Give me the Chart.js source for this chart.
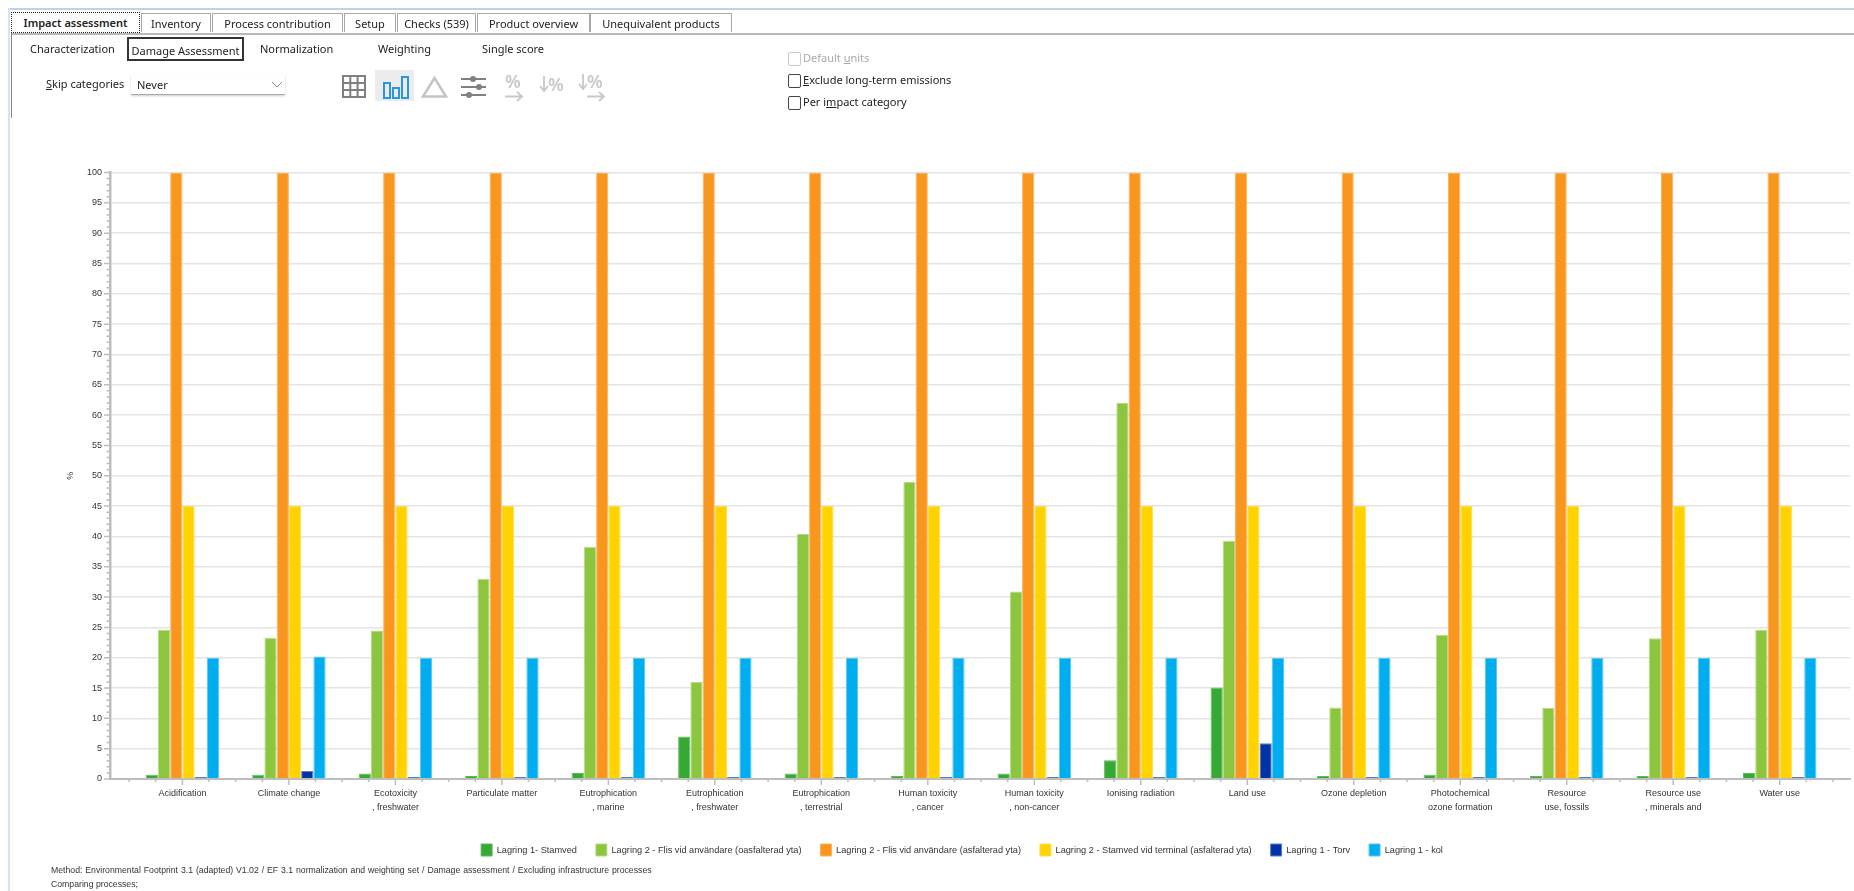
<!DOCTYPE html>
<html lang="en">

<head>
    <meta charset="UTF-8">
    <title>Impact assessment</title>
    <script src="https://cdn.jsdelivr.net/npm/chart.js"></script>

    <style>
        html, body {
            margin: 0;
            padding: 0;
            width: 1854px;
            height: 891px;
            overflow: hidden;
            background: #fff;
            font-family: "Noto Sans", sans-serif;
            color: #222;
        }

        canvas {
            position: absolute;
            left: 0;
            top: 0;
        }

        .ui {
            position: absolute;
            white-space: nowrap;
            font-size: 11px;
            line-height: 16px;
        }

        .line {
            position: absolute;
        }

        .tab {
            position: absolute;
            top: 13px;
            height: 19px;
            line-height: 19px;
            font-size: 11px;
            text-align: center;
            box-sizing: border-box;
            border: 1px solid #a8a8a8;
            border-bottom: none;
            white-space: nowrap;
        }

        .check {
            position: absolute;
            left: 788px;
            width: 11px;
            height: 12px;
            border: 1px solid #444;
            border-radius: 2px;
        }

        .pct {
            font-size: 18px;
            line-height: 18px;
            color: #c8c8c8;
            font-weight: 600;
        }

        .note {
            font-family: "Liberation Sans", sans-serif;
            font-size: 8.7px;
            line-height: 14px;
            color: #333;
        }

        svg {
            position: absolute;
        }
    </style>
</head>

<body>
    <canvas id="myChart" width="1854" height="891"></canvas>

    <div class="line" style="left:8px;top:8px;width:1846px;height:2px;background:#bcd3ec"></div>
    <div class="line" style="left:8px;top:8px;width:2px;height:883px;background:#d5e3f2"></div>
    <div class="line" style="left:12px;top:33px;width:1842px;height:2px;background:#b8b8b8"></div>
    <div class="line" style="left:11px;top:33px;width:1px;height:85px;background:#888"></div>

    <div class="tab" style="left:11px;width:129px;top:12px;height:21px;font-weight:600;border:1px dotted #222;background:#fff">Impact assessment</div>
    <div class="tab" style="left:141px;width:70px">Inventory</div>
    <div class="tab" style="left:212px;width:131px">Process contribution</div>
    <div class="tab" style="left:344px;width:52px">Setup</div>
    <div class="tab" style="left:397px;width:79px">Checks (539)</div>
    <div class="tab" style="left:477px;width:113px">Product overview</div>
    <div class="tab" style="left:590px;width:142px">Unequivalent products</div>

    <div class="ui" style="left:30px;top:41px">Characterization</div>
    <div class="ui" style="left:127px;top:37px;width:117px;height:24px;line-height:24px;box-sizing:border-box;border:2px solid #333;text-align:center">Damage Assessment</div>
    <div class="ui" style="left:260px;top:41px">Normalization</div>
    <div class="ui" style="left:378px;top:41px">Weighting</div>
    <div class="ui" style="left:482px;top:41px">Single score</div>

    <div class="ui" style="left:46px;top:76px"><u>S</u>kip categories</div>
    <div class="ui" style="left:131px;top:74px;width:154px;height:21px;line-height:21px;box-sizing:border-box;padding-left:6px;border-bottom:1px solid #aaa;box-shadow:0 1px 2px #ccc">Never</div>
    <svg style="left:271px;top:81px" width="12" height="8"><path d="M1 1 L6 6 L11 1" fill="none" stroke="#888" stroke-width="1"/></svg>

    <!-- toolbar icons -->
    <div class="line" style="left:375px;top:70px;width:39px;height:31px;background:#ececec"></div>
    <svg style="left:342px;top:75px" width="24" height="23">
        <path d="M1 1H23V22H1ZM8.3 1V22M15.6 1V22M1 8H23M1 15H23" fill="none" stroke="#808080" stroke-width="2"/>
    </svg>
    <svg style="left:382px;top:75px" width="28" height="24">
        <path d="M2 8H8V23H2ZM11 13H17V23H11ZM20 2H26V23H20Z" fill="none" stroke="#2a96dc" stroke-width="2"/>
    </svg>
    <svg style="left:421px;top:76px" width="27" height="22">
        <path d="M13.5 2L25 20.5H2Z" fill="none" stroke="#c4c4c4" stroke-width="2.5"/>
    </svg>
    <svg style="left:461px;top:75px" width="26" height="23">
        <g stroke="#808080" stroke-width="2" fill="#808080">
            <path d="M0 4H25M0 12H25M0 20H25"/>
            <circle cx="12" cy="4" r="2"/><circle cx="18" cy="12" r="2"/><circle cx="8" cy="20" r="2"/>
        </g>
    </svg>
    <div class="ui pct" style="left:505px;top:72px">%</div>
    <svg style="left:504px;top:91px" width="20" height="11"><path d="M1 5.5H18M13 1L18 5.5L13 10" fill="none" stroke="#c8c8c8" stroke-width="1.8"/></svg>
    <svg style="left:539px;top:75px" width="10" height="18"><path d="M5 1V16M1 11L5 16L9 11" fill="none" stroke="#c8c8c8" stroke-width="1.8"/></svg>
    <div class="ui pct" style="left:548px;top:75px">%</div>
    <svg style="left:578px;top:73px" width="10" height="18"><path d="M5 1V16M1 11L5 16L9 11" fill="none" stroke="#c8c8c8" stroke-width="1.8"/></svg>
    <div class="ui pct" style="left:587px;top:72px">%</div>
    <svg style="left:586px;top:91px" width="20" height="11"><path d="M1 5.5H18M13 1L18 5.5L13 10" fill="none" stroke="#c8c8c8" stroke-width="1.8"/></svg>

    <div class="check" style="top:52px;border-color:#c8c8c8"></div>
    <div class="ui" style="left:803px;top:50px;color:#a8a8a8">Default <u>u</u>nits</div>
    <div class="check" style="top:74px"></div>
    <div class="ui" style="left:803px;top:72px"><u>E</u>xclude long-term emissions</div>
    <div class="check" style="top:96px"></div>
    <div class="ui" style="left:803px;top:94px">Per i<u>m</u>pact category</div>

    <div class="ui note" style="left:51px;top:863px;word-spacing:0.5px">Method: Environmental Footprint 3.1 (adapted) V1.02 / EF 3.1 normalization and weighting set / Damage assessment / Excluding infrastructure processes</div>
    <div class="ui note" style="left:51px;top:877px">Comparing processes;</div>

    <script>
        const categories = [
            ['Acidification'], ['Climate change'], ['Ecotoxicity', ', freshwater'], ['Particulate matter'],
            ['Eutrophication', ', marine'], ['Eutrophication', ', freshwater'], ['Eutrophication', ', terrestrial'],
            ['Human toxicity', ', cancer'], ['Human toxicity', ', non-cancer'], ['Ionising radiation'], ['Land use'],
            ['Ozone depletion'], ['Photochemical', 'ozone formation'], ['Resource', 'use, fossils'],
            ['Resource use', ', minerals and'], ['Water use']
        ];

        const stamved = [0.7, 0.7, 0.9, 0.5, 1, 7, 0.9, 0.5, 0.9, 3.1, 15.1, 0.5, 0.7, 0.5, 0.5, 1];
        const flisOasfalterad = [24.6, 23.3, 24.5, 33, 38.3, 16, 40.4, 49, 30.9, 62, 39.3, 11.8, 23.8, 11.7, 23.2, 24.6];
        const flisAsfalterad = [100, 100, 100, 100, 100, 100, 100, 100, 100, 100, 100, 100, 100, 100, 100, 100];
        const stamvedTerminal = [45, 45, 45, 45, 45, 45, 45, 45, 45, 45, 45, 45, 45, 45, 45, 45];
        const torv = [0.35, 1.3, 0.35, 0.35, 0.35, 0.35, 0.35, 0.35, 0.35, 0.35, 5.9, 0.35, 0.35, 0.35, 0.35, 0.35];
        const kol = [20, 20.2, 20, 20, 20, 20, 20, 20, 20, 20, 20, 20, 20, 20, 20, 20];

        Chart.defaults.font.family = '"Liberation Sans", sans-serif';
        Chart.defaults.color = '#333';
        Chart.defaults.animation = false;

        const makeSet = (label, values, color, border) => ({
            label: label,
            data: values.map((v, i) => ({ x: i, y: v })),
            backgroundColor: color,
            borderColor: border,
            borderWidth: 1
        });

        // the small ticks on both axes, native ticks can only have one length
        const axisTicks = {
            id: 'axisTicks',
            afterDraw(chart) {
                const c = chart.ctx;
                const xs = chart.scales.x;
                const ys = chart.scales.y;
                const bottom = chart.chartArea.bottom;
                const left = chart.chartArea.left;
                c.save();
                c.strokeStyle = '#bdbdbd';
                c.lineWidth = 1.5;
                c.beginPath();
                for (let v = 0; v <= 100; v++) {
                    const p = ys.getPixelForValue(v);
                    c.moveTo(left, p);
                    c.lineTo(left - (v % 5 === 0 ? 6 : 3.5), p);
                }
                for (let v = -0.5; v <= categories.length - 0.5; v += 0.25) {
                    const p = xs.getPixelForValue(v);
                    c.moveTo(p, bottom);
                    c.lineTo(p, bottom + (Number.isInteger(v) ? 6 : 3));
                }
                c.stroke();
                c.restore();
            }
        };

        const ctx = document.getElementById('myChart').getContext('2d');

        const myChart = new Chart(ctx, {
            type: 'bar',
            data: {
                datasets: [
                    makeSet('Lagring 1- Stamved', stamved, '#36a935', '#5cba5b'),
                    makeSet('Lagring 2 - Flis vid användare (oasfalterad yta)', flisOasfalterad, '#8cc63f', '#b5da85'),
                    makeSet('Lagring 2 - Flis vid användare (asfalterad yta)', flisAsfalterad, '#f9961e', '#fbb25c'),
                    makeSet('Lagring 2 - Stamved vid terminal (asfalterad yta)', stamvedTerminal, '#ffd200', '#ffdf4d'),
                    makeSet('Lagring 1 - Torv', torv, '#0032a6', '#5f7cc6'),
                    makeSet('Lagring 1 - kol', kol, '#00aeef', '#55caf4')
                ]
            },
            plugins: [axisTicks],
            options: {
                responsive: false,
                devicePixelRatio: 1,
                categoryPercentage: 0.69,
                barPercentage: 1,
                layout: {
                    padding: { left: 74, right: 4, top: 172.5, bottom: 25 }
                },
                plugins: {
                    tooltip: { enabled: false },
                    title: { display: false },
                    legend: {
                        position: 'bottom',
                        labels: {
                            boxWidth: 11,
                            boxHeight: 12,
                            padding: 19,
                            font: { size: 9.2 },
                            color: '#333'
                        }
                    }
                },
                scales: {
                    x: {
                        type: 'linear',
                        offset: false,
                        min: -0.68,
                        max: 15.66,
                        afterBuildTicks(scale) {
                            scale.ticks = categories.map((c, i) => ({ value: i }));
                        },
                        afterFit(scale) {
                            scale.height = 46;
                        },
                        grid: { display: false, drawTicks: false, offset: false },
                        border: { color: '#bdbdbd', width: 2, z: 1 },
                        ticks: {
                            autoSkip: false,
                            maxRotation: 0,
                            padding: 8,
                            font: { size: 9, lineHeight: 1.55 },
                            color: '#333',
                            callback: (v) => categories[v]
                        }
                    },
                    y: {
                        min: 0,
                        max: 100,
                        afterFit(scale) {
                            scale.width = 36;
                        },
                        title: {
                            display: true,
                            text: '%',
                            padding: { top: -9, bottom: 0 },
                            font: { size: 9 },
                            color: '#333'
                        },
                        grid: {
                            drawTicks: false,
                            lineWidth: 1.5,
                            color: (c) => (c.tick.value % 5 === 0 ? '#e4e4e4' : 'transparent')
                        },
                        border: { color: '#bdbdbd', width: 2.5, z: 1 },
                        ticks: {
                            stepSize: 1,
                            autoSkip: false,
                            maxTicksLimit: 101,
                            padding: 8,
                            font: { size: 9 },
                            color: '#333',
                            callback: (v) => (v % 5 === 0 ? String(v) : '')
                        }
                    }
                }
            }
        });
    </script>
</body>

</html>
